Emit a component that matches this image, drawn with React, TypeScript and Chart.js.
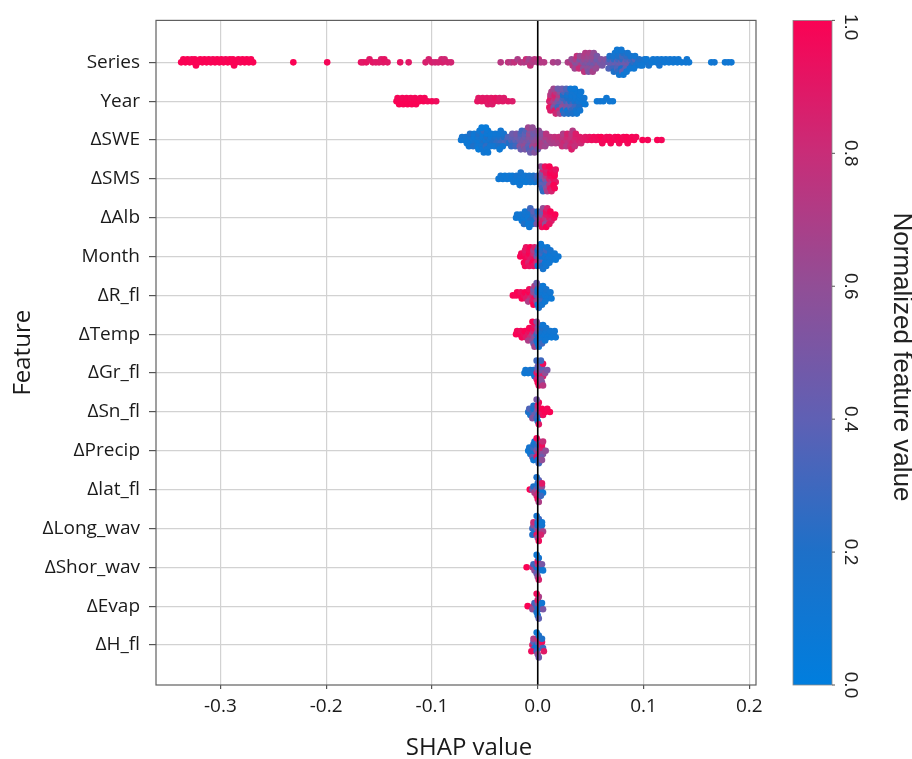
import React, { useEffect, useRef } from 'react';
import { Chart, registerables } from 'chart.js';
Chart.register(...registerables);

// ---------- data ----------
const features = ['Series', 'Year', 'ΔSWE', 'ΔSMS', 'ΔAlb', 'Month', 'ΔR_fl', 'ΔTemp', 'ΔGr_fl', 'ΔSn_fl', 'ΔPrecip', 'Δlat_fl', 'ΔLong_wav', 'ΔShor_wav', 'ΔEvap', 'ΔH_fl'];
const xTicks = [-0.3, -0.2, -0.1, 0, 0.1, 0.2];
const cbTicks = [0, 0.2, 0.4, 0.6, 0.8, 1.0];

// [SHAP value, normalized feature value]
const seriesPts = [
  [-0.337, 1], [-0.335, 1], [-0.333, 1], [-0.331, 1], [-0.329, 1], [-0.327, 0.98], [-0.325, 1], [-0.324, 1], [-0.323, 1], [-0.321, 1], [-0.319, 1], [-0.317, 1], [-0.315, 1], [-0.313, 1], [-0.311, 1], [-0.309, 1], [-0.307, 0.98], [-0.305, 1], [-0.303, 1], [-0.301, 1], [-0.299, 1], [-0.297, 1], [-0.295, 0.97], [-0.293, 1], [-0.291, 1], [-0.289, 1], [-0.288, 1], [-0.287, 1], [-0.285, 1], [-0.283, 1], [-0.281, 0.98], [-0.279, 1], [-0.277, 1], [-0.275, 1], [-0.273, 1], [-0.271, 1], [-0.269, 1],
  [-0.231, 1], [-0.199, 0.98],
  [-0.167, 0.93], [-0.165, 0.9], [-0.162, 0.92], [-0.159, 0.9], [-0.156, 0.91], [-0.153, 0.89], [-0.15, 0.9], [-0.148, 0.88], [-0.146, 0.9], [-0.145, 0.92], [-0.142, 0.9],
  [-0.13, 0.92], [-0.122, 0.9],
  [-0.106, 0.86], [-0.103, 0.85], [-0.1, 0.86], [-0.097, 0.84], [-0.094, 0.85], [-0.091, 0.84], [-0.09, 0.86], [-0.088, 0.83], [-0.085, 0.85], [-0.082, 0.84],
  [-0.035, 0.74],
  [-0.028, 0.76], [-0.025, 0.73], [-0.022, 0.78], [-0.019, 0.7], [-0.016, 0.75], [-0.013, 0.72], [-0.011, 0.8], [-0.009, 0.7], [-0.008, 0.66], [-0.007, 0.78], [-0.005, 0.72], [-0.003, 0.75], [0, 0.7], [0.001, 0.76], [0.003, 0.72], [0.006, 0.73],
  [0.0145, 0.7], [0.019, 0.66],
  [0.0285, 0.7],
  [0.031, 0.72], [0.032, 0.62], [0.033, 0.75],
  [0.035, 0.6], [0.036, 0.7], [0.0365, 0.55], [0.037, 0.78], [0.035, 0.65],
  [0.039, 0.6], [0.04, 0.5], [0.041, 0.7], [0.04, 0.62], [0.039, 0.8],
  [0.043, 0.55], [0.044, 0.62], [0.045, 0.5], [0.044, 0.68], [0.043, 0.58], [0.045, 0.72], [0.044, 0.76],
  [0.047, 0.55], [0.048, 0.6], [0.049, 0.48], [0.048, 0.65], [0.047, 0.58], [0.049, 0.7], [0.048, 0.52],
  [0.051, 0.5], [0.052, 0.58], [0.053, 0.45], [0.052, 0.62], [0.051, 0.55], [0.053, 0.6], [0.052, 0.68],
  [0.055, 0.52], [0.056, 0.45], [0.057, 0.58], [0.056, 0.5], [0.055, 0.62],
  [0.059, 0.48], [0.06, 0.55], [0.061, 0.5],
  [0.063, 0.5], [0.0645, 0.55],
  [0.067, 0.42], [0.068, 0.3], [0.069, 0.45], [0.068, 0.2], [0.067, 0.35],
  [0.071, 0.4], [0.072, 0.25], [0.073, 0.45], [0.072, 0.15], [0.071, 0.3], [0.073, 0.12], [0.072, 0.2],
  [0.075, 0.4], [0.076, 0.3], [0.077, 0.45], [0.076, 0.2], [0.075, 0.35], [0.077, 0.15], [0.076, 0.25], [0.075, 0.1], [0.077, 0.12],
  [0.079, 0.42], [0.08, 0.25], [0.081, 0.45], [0.08, 0.3], [0.079, 0.18], [0.081, 0.2], [0.08, 0.4], [0.079, 0.12], [0.081, 0.1],
  [0.083, 0.45], [0.084, 0.35], [0.085, 0.5], [0.084, 0.25], [0.083, 0.4], [0.085, 0.15], [0.084, 0.12],
  [0.087, 0.42], [0.088, 0.3], [0.089, 0.2], [0.088, 0.15], [0.087, 0.12],
  [0.091, 0.25], [0.092, 0.35], [0.093, 0.15], [0.092, 0.12], [0.091, 0.1],
  [0.095, 0.15], [0.096, 0.2], [0.097, 0.12],
  [0.1, 0.12], [0.101, 0.15], [0.099, 0.1], [0.104, 0.12], [0.103, 0.1], [0.105, 0.15], [0.108, 0.1], [0.109, 0.12], [0.112, 0.1], [0.113, 0.12], [0.116, 0.1], [0.117, 0.12], [0.115, 0.14], [0.12, 0.1], [0.121, 0.12], [0.124, 0.1], [0.125, 0.12], [0.128, 0.1], [0.129, 0.12], [0.132, 0.1], [0.133, 0.11], [0.136, 0.1], [0.14, 0.1], [0.141, 0.12], [0.143, 0.1],
  [0.164, 0.1], [0.167, 0.12], [0.177, 0.1], [0.18, 0.12], [0.183, 0.1],
];

const yearPts = [
  [-0.1335, 1], [-0.1325, 0.98], [-0.131, 1], [-0.1285, 1], [-0.128, 0.97], [-0.127, 1], [-0.1245, 1], [-0.124, 0.98], [-0.123, 1], [-0.1205, 1], [-0.12, 0.97], [-0.119, 1], [-0.1165, 1], [-0.116, 0.98], [-0.115, 1], [-0.112, 1], [-0.111, 0.97], [-0.108, 1], [-0.107, 0.98], [-0.104, 0.97], [-0.1, 0.98], [-0.096, 0.95],
  [-0.057, 0.92], [-0.056, 0.9], [-0.053, 0.92], [-0.052, 0.9], [-0.049, 0.92], [-0.048, 0.9], [-0.047, 0.88], [-0.045, 0.92], [-0.044, 0.9], [-0.043, 0.88], [-0.041, 0.9], [-0.04, 0.92], [-0.037, 0.9], [-0.036, 0.88], [-0.033, 0.9], [-0.032, 0.88], [-0.028, 0.9], [-0.024, 0.88],
  [0.011, 0.85], [0.012, 0.9], [0.013, 0.8], [0.012, 0.75], [0.011, 0.92], [0.013, 0.7], [0.012, 0.88],
  [0.015, 0.7], [0.016, 0.8], [0.017, 0.6], [0.016, 0.85], [0.015, 0.5], [0.017, 0.75], [0.016, 0.9], [0.015, 0.65], [0.017, 0.82],
  [0.019, 0.5], [0.02, 0.6], [0.021, 0.4], [0.02, 0.7], [0.019, 0.3], [0.021, 0.55], [0.02, 0.8], [0.019, 0.45], [0.021, 0.65],
  [0.023, 0.4], [0.024, 0.3], [0.025, 0.5], [0.024, 0.2], [0.023, 0.6], [0.025, 0.35], [0.024, 0.15], [0.023, 0.45], [0.025, 0.25],
  [0.027, 0.3], [0.028, 0.2], [0.029, 0.4], [0.028, 0.15], [0.027, 0.5], [0.029, 0.25], [0.028, 0.1], [0.027, 0.35], [0.029, 0.2],
  [0.031, 0.2], [0.032, 0.15], [0.033, 0.3], [0.032, 0.1], [0.031, 0.4], [0.033, 0.12], [0.032, 0.25], [0.031, 0.1], [0.033, 0.18],
  [0.035, 0.15], [0.036, 0.1], [0.037, 0.2], [0.036, 0.12], [0.035, 0.3], [0.037, 0.1], [0.036, 0.15], [0.035, 0.08], [0.037, 0.12],
  [0.039, 0.12], [0.04, 0.1], [0.041, 0.15], [0.04, 0.08], [0.039, 0.2], [0.041, 0.1], [0.04, 0.12],
  [0.043, 0.1], [0.044, 0.12], [0.045, 0.08],
  [0.056, 0.1], [0.059, 0.12], [0.062, 0.1], [0.065, 0.1], [0.068, 0.12], [0.071, 0.1],
];

const swePts = [
  [-0.0725, 0.1], [-0.0715, 0.15],
  [-0.069, 0.1], [-0.068, 0.15], [-0.067, 0.08],
  [-0.065, 0.1], [-0.064, 0.15], [-0.063, 0.08], [-0.064, 0.2], [-0.065, 0.1],
  [-0.061, 0.12], [-0.06, 0.08], [-0.059, 0.15], [-0.06, 0.1], [-0.061, 0.2],
  [-0.057, 0.1], [-0.056, 0.15], [-0.055, 0.08], [-0.056, 0.2], [-0.057, 0.12], [-0.055, 0.1], [-0.056, 0.05],
  [-0.053, 0.15], [-0.052, 0.1], [-0.051, 0.2], [-0.052, 0.08], [-0.053, 0.12], [-0.051, 0.25], [-0.052, 0.1], [-0.053, 0.05], [-0.051, 0.12],
  [-0.049, 0.1], [-0.048, 0.2], [-0.047, 0.15], [-0.048, 0.08], [-0.049, 0.25], [-0.047, 0.1], [-0.048, 0.12], [-0.049, 0.05], [-0.047, 0.1],
  [-0.045, 0.15], [-0.044, 0.1], [-0.043, 0.2], [-0.044, 0.08], [-0.045, 0.12],
  [-0.041, 0.2], [-0.04, 0.15], [-0.039, 0.25], [-0.04, 0.1], [-0.041, 0.12],
  [-0.037, 0.25], [-0.036, 0.15], [-0.035, 0.3], [-0.036, 0.1], [-0.037, 0.2], [-0.035, 0.12], [-0.036, 0.08],
  [-0.033, 0.3], [-0.032, 0.2], [-0.031, 0.35], [-0.032, 0.15], [-0.033, 0.1],
  [-0.029, 0.3], [-0.028, 0.35], [-0.027, 0.2],
  [-0.025, 0.35], [-0.024, 0.4], [-0.023, 0.3], [-0.024, 0.45], [-0.025, 0.25],
  [-0.021, 0.4], [-0.02, 0.45], [-0.019, 0.35], [-0.02, 0.5], [-0.021, 0.3],
  [-0.017, 0.45], [-0.016, 0.4], [-0.015, 0.5], [-0.016, 0.35], [-0.017, 0.55], [-0.015, 0.3], [-0.016, 0.45],
  [-0.013, 0.5], [-0.012, 0.45], [-0.011, 0.55], [-0.012, 0.4], [-0.013, 0.6], [-0.011, 0.35], [-0.012, 0.5],
  [-0.009, 0.5], [-0.008, 0.55], [-0.007, 0.45], [-0.008, 0.6], [-0.009, 0.4], [-0.007, 0.55], [-0.008, 0.35], [-0.009, 0.65], [-0.007, 0.45],
  [-0.005, 0.55], [-0.004, 0.5], [-0.003, 0.6], [-0.004, 0.45], [-0.005, 0.65], [-0.003, 0.5], [-0.004, 0.4], [-0.005, 0.6], [-0.003, 0.55],
  [-0.001, 0.6], [0, 0.55], [0.001, 0.65], [0, 0.5], [-0.001, 0.7], [0.001, 0.6], [0, 0.45],
  [0.003, 0.65], [0.004, 0.6], [0.005, 0.7], [0.004, 0.55], [0.003, 0.7],
  [0.007, 0.65], [0.008, 0.7], [0.009, 0.6], [0.008, 0.75], [0.007, 0.65],
  [0.011, 0.7], [0.012, 0.75], [0.013, 0.68],
  [0.015, 0.72], [0.016, 0.78], [0.017, 0.7],
  [0.019, 0.75], [0.02, 0.8], [0.021, 0.72],
  [0.023, 0.78], [0.024, 0.75], [0.025, 0.82], [0.024, 0.7], [0.023, 0.8],
  [0.027, 0.78], [0.028, 0.82], [0.029, 0.75], [0.028, 0.85], [0.027, 0.72],
  [0.031, 0.8], [0.032, 0.78], [0.033, 0.85], [0.032, 0.75], [0.031, 0.82], [0.033, 0.72], [0.032, 0.88],
  [0.035, 0.82], [0.036, 0.85], [0.037, 0.8], [0.036, 0.88], [0.035, 0.78],
  [0.039, 0.85], [0.04, 0.88], [0.041, 0.82],
  [0.043, 0.88], [0.045, 0.9],
  [0.047, 0.9], [0.049, 0.92],
  [0.051, 0.95], [0.053, 0.97], [0.055, 0.95], [0.057, 0.98], [0.059, 0.96], [0.06, 1], [0.061, 0.97], [0.063, 0.98], [0.065, 0.96], [0.067, 1], [0.068, 0.97], [0.069, 0.98], [0.071, 1], [0.073, 0.97], [0.075, 0.98], [0.076, 1], [0.077, 0.96], [0.079, 1], [0.081, 0.97], [0.083, 0.98], [0.084, 1], [0.085, 0.97], [0.087, 1], [0.089, 0.98], [0.091, 1], [0.093, 0.97], [0.099, 1], [0.104, 0.98], [0.113, 1], [0.117, 0.98],
];

const smsPts = [
  [-0.037, 0.1], [-0.035, 0.12], [-0.033, 0.1], [-0.031, 0.08], [-0.029, 0.1], [-0.027, 0.12], [-0.025, 0.1], [-0.024, 0.08], [-0.023, 0.12], [-0.021, 0.1], [-0.02, 0.15], [-0.019, 0.08], [-0.017, 0.1], [-0.016, 0.12], [-0.015, 0.08], [-0.016, 0.15], [-0.017, 0.1], [-0.013, 0.1], [-0.012, 0.12], [-0.011, 0.08], [-0.009, 0.1], [-0.008, 0.15], [-0.007, 0.12], [-0.005, 0.15], [-0.004, 0.2], [-0.003, 0.12], [-0.001, 0.25], [0, 0.3], [0.001, 0.2],
  [0.003, 0.35], [0.004, 0.45], [0.005, 0.3], [0.004, 0.55], [0.003, 0.4], [0.005, 0.85], [0.004, 0.3], [0.003, 0.6], [0.005, 0.25],
  [0.007, 0.6], [0.008, 0.75], [0.009, 0.5], [0.008, 0.9], [0.007, 0.4], [0.009, 0.85], [0.008, 0.55], [0.007, 0.95], [0.009, 0.7],
  [0.011, 0.85], [0.012, 0.95], [0.013, 0.8], [0.012, 1], [0.011, 0.75], [0.013, 0.95], [0.012, 0.9], [0.011, 1], [0.013, 0.85],
  [0.015, 0.95], [0.016, 1], [0.017, 0.9], [0.016, 0.97], [0.015, 1], [0.017, 0.92], [0.016, 0.98],
];

const albPts = [
  [-0.0205, 0.1], [-0.0195, 0.12],
  [-0.017, 0.1], [-0.016, 0.12], [-0.015, 0.08],
  [-0.013, 0.1], [-0.012, 0.15], [-0.011, 0.08], [-0.012, 0.12], [-0.013, 0.2],
  [-0.009, 0.12], [-0.008, 0.1], [-0.007, 0.2], [-0.008, 0.15], [-0.009, 0.08], [-0.007, 0.3], [-0.008, 0.1],
  [-0.005, 0.2], [-0.004, 0.3], [-0.003, 0.15], [-0.004, 0.4], [-0.005, 0.12],
  [-0.001, 0.45], [0, 0.3], [0.001, 0.6], [0, 0.2], [-0.001, 0.5],
  [0.003, 0.75], [0.004, 0.55], [0.005, 0.85], [0.004, 0.45], [0.003, 0.9], [0.005, 0.6], [0.004, 0.95],
  [0.007, 0.8], [0.008, 0.9], [0.009, 0.7], [0.008, 0.95], [0.007, 0.6], [0.009, 0.85], [0.008, 1],
  [0.011, 0.9], [0.012, 0.95], [0.013, 0.85], [0.012, 1], [0.011, 0.92],
  [0.0155, 0.95], [0.0165, 1],
];

const monthPts = [
  [-0.0165, 1], [-0.0155, 0.97],
  [-0.013, 1], [-0.012, 0.95], [-0.011, 0.98], [-0.012, 0.9], [-0.013, 1], [-0.011, 0.93], [-0.012, 0.97],
  [-0.009, 0.95], [-0.008, 1], [-0.007, 0.9], [-0.008, 0.97], [-0.009, 0.85], [-0.007, 1], [-0.008, 0.92],
  [-0.005, 0.9], [-0.004, 0.8], [-0.003, 0.95], [-0.004, 0.7], [-0.005, 1], [-0.003, 0.85], [-0.004, 0.93],
  [-0.001, 0.5], [0, 0.3], [0.001, 0.65], [0, 0.2], [-0.001, 0.8], [0.001, 0.4], [0, 0.15],
  [0.003, 0.15], [0.004, 0.3], [0.005, 0.1], [0.004, 0.25], [0.003, 0.4], [0.005, 0.12], [0.004, 0.2], [0.003, 0.08], [0.005, 0.15],
  [0.007, 0.12], [0.008, 0.1], [0.009, 0.15], [0.008, 0.3], [0.007, 0.08], [0.009, 0.1], [0.008, 0.12],
  [0.011, 0.1], [0.012, 0.08], [0.013, 0.12], [0.012, 0.15], [0.011, 0.1],
  [0.015, 0.1], [0.016, 0.12], [0.017, 0.08],
  [0.0195, 0.1],
];

const rflPts = [
  [-0.0235, 1],
  [-0.0205, 0.98], [-0.0195, 1],
  [-0.017, 1], [-0.016, 0.95], [-0.015, 1],
  [-0.013, 0.95], [-0.012, 1], [-0.011, 0.9],
  [-0.009, 0.9], [-0.008, 1], [-0.007, 0.8], [-0.008, 0.95], [-0.009, 0.7],
  [-0.005, 0.85], [-0.004, 0.6], [-0.003, 0.95], [-0.004, 0.5], [-0.005, 0.9], [-0.003, 0.7], [-0.004, 1],
  [-0.001, 0.4], [0, 0.2], [0.001, 0.5], [0, 0.15], [-0.001, 0.6], [0.001, 0.3], [0, 0.1], [-0.001, 0.45], [0.001, 0.2],
  [0.003, 0.15], [0.004, 0.1], [0.005, 0.2], [0.004, 0.12], [0.003, 0.3], [0.005, 0.08], [0.004, 0.15],
  [0.007, 0.1], [0.008, 0.12], [0.009, 0.08], [0.008, 0.15], [0.007, 0.1],
  [0.011, 0.1], [0.012, 0.12], [0.013, 0.08],
];

const tempPts = [
  [-0.0205, 1], [-0.0195, 0.97],
  [-0.017, 1], [-0.016, 0.95], [-0.015, 0.98],
  [-0.013, 0.95], [-0.012, 1], [-0.011, 0.9],
  [-0.009, 0.9], [-0.008, 0.95], [-0.007, 0.8], [-0.008, 1], [-0.009, 0.7],
  [-0.005, 0.7], [-0.004, 0.85], [-0.003, 0.55], [-0.004, 0.95], [-0.005, 0.6], [-0.003, 0.9], [-0.004, 0.45], [-0.005, 1], [-0.003, 0.65],
  [-0.001, 0.3], [0, 0.5], [0.001, 0.15], [0, 0.6], [-0.001, 0.2], [0.001, 0.4], [0, 0.1], [-0.001, 0.55], [0.001, 0.12],
  [0.003, 0.1], [0.004, 0.15], [0.005, 0.08], [0.004, 0.2], [0.003, 0.12], [0.005, 0.1], [0.004, 0.3],
  [0.007, 0.1], [0.008, 0.12], [0.009, 0.08], [0.008, 0.15], [0.007, 0.1],
  [0.011, 0.1], [0.012, 0.12], [0.013, 0.08],
  [0.015, 0.1], [0.016, 0.12], [0.017, 0.1],
];

const grPts = [
  [-0.0125, 0.1], [-0.0115, 0.12],
  [-0.009, 0.1], [-0.007, 0.15],
  [-0.005, 0.12], [-0.004, 0.2], [-0.003, 0.1],
  [-0.001, 0.9], [0, 0.6], [0.001, 0.95], [0, 0.4], [-0.001, 0.85], [0.001, 0.5], [0, 1], [-0.001, 0.3], [0.001, 0.9],
  [0.003, 0.7], [0.004, 0.5], [0.005, 0.85], [0.004, 0.4], [0.003, 0.6], [0.005, 0.95], [0.004, 0.55], [0.003, 0.3], [0.005, 0.75],
  [0.007, 0.6], [0.009, 0.5],
];

const snPts = [
  [-0.009, 0.2], [-0.008, 0.35], [-0.007, 0.15],
  [-0.005, 0.3], [-0.004, 0.15], [-0.003, 0.45], [-0.004, 0.2], [-0.005, 0.55],
  [-0.001, 0.4], [0, 0.6], [0.001, 0.2], [0, 0.8], [-0.001, 0.3], [0.001, 0.95], [0, 0.15], [-0.001, 0.5], [0.001, 0.9],
  [0.003, 0.9], [0.004, 1], [0.005, 0.95],
  [0.007, 1], [0.009, 0.97],
  [0.0115, 1],
];

const precipPts = [
  [-0.009, 0.1], [-0.008, 0.15], [-0.007, 0.12],
  [-0.005, 0.15], [-0.004, 0.3], [-0.003, 0.1], [-0.004, 0.2], [-0.005, 0.4], [-0.003, 0.12], [-0.004, 0.1],
  [-0.001, 0.6], [0, 0.4], [0.001, 0.8], [0, 0.25], [-0.001, 0.9], [0.001, 0.5], [0, 0.15], [-0.001, 0.95], [0.001, 0.3],
  [0.003, 0.7], [0.004, 0.85], [0.005, 0.55], [0.004, 0.95], [0.003, 0.45], [0.005, 0.8], [0.004, 0.6],
  [0.0075, 0.6],
];

const latPts = [
  [-0.0075, 1],
  [-0.005, 0.5], [-0.004, 0.2], [-0.003, 0.7],
  [-0.001, 0.6], [0, 0.3], [0.001, 0.9], [0, 0.15], [-0.001, 0.8], [0.001, 0.4], [0, 0.95], [-0.001, 0.2], [0.001, 0.7],
  [0.003, 0.2], [0.004, 0.6], [0.005, 0.1], [0.004, 0.9], [0.003, 0.3],
];

const longPts = [
  [-0.005, 0.3], [-0.004, 0.6], [-0.003, 0.15], [-0.004, 0.8], [-0.005, 0.2],
  [-0.001, 0.5], [0, 0.2], [0.001, 0.8], [0, 0.1], [-0.001, 0.9], [0.001, 0.3], [0, 0.6], [-0.001, 0.15], [0.001, 0.95],
  [0.003, 0.4], [0.004, 0.15], [0.005, 0.7], [0.004, 0.1], [0.003, 0.85],
];

const shorPts = [
  [-0.0105, 1],
  [-0.005, 0.8], [-0.004, 0.3], [-0.003, 0.6],
  [-0.001, 0.2], [0, 0.7], [0.001, 0.1], [0, 0.9], [-0.001, 0.4], [0.001, 0.15], [0, 0.6], [-0.001, 0.1], [0.001, 0.85],
  [0.003, 0.2], [0.004, 0.5], [0.005, 0.1],
];

const evapPts = [
  [-0.0095, 1],
  [-0.004, 0.8], [-0.003, 0.3], [-0.005, 0.6],
  [-0.001, 0.3], [0, 0.6], [0.001, 0.1], [0, 0.9], [-0.001, 0.2], [0.001, 0.7], [0, 0.15], [-0.001, 0.95], [0.001, 0.4],
  [0.003, 0.2], [0.004, 0.1], [0.005, 0.5],
];

const hflPts = [
  [-0.005, 0.9], [-0.004, 0.4], [-0.003, 0.2], [-0.004, 0.7], [-0.006, 0.95],
  [-0.001, 0.15], [0, 0.5], [0.001, 0.1], [0, 0.8], [-0.001, 0.3], [0.001, 0.2], [0, 0.6], [-0.001, 0.1], [0.001, 0.45],
  [0.003, 0.7], [0.004, 0.95], [0.005, 0.3], [0.004, 0.2], [0.0058, 0.9],
];

const rows = [seriesPts, yearPts, swePts, smsPts, albPts, monthPts, rflPts, tempPts, grPts, snPts, precipPts, latPts, longPts, shorPts, evapPts, hflPts];

// ---------- style / layout ----------
const X_MIN = -0.3608;
const X_MAX = 0.2063;
const Y_MIN = -1.03;
const Y_MAX = 16.08;
const BIN = 0.004; // swarm bin width (SHAP units)
const LAYER = 0.08; // vertical step per stacked point (row units)
const DOT = 3.3;
const colorStops = [
  [0, 0, 126, 222],
  [0.2, 30, 112, 200],
  [0.4, 95, 96, 180],
  [0.6, 145, 78, 150],
  [0.8, 200, 45, 120],
  [1, 250, 2, 84],
];
const LABEL_FONT = '"Open Sans", "DejaVu Sans", sans-serif';
const CB_FONT = '"Liberation Sans", Arial, sans-serif';

function cmap(t: number): string {
  const v = Math.max(0, Math.min(1, t));
  for (let i = 1; i < colorStops.length; i++) {
    const a = colorStops[i - 1];
    const b = colorStops[i];
    if (v <= b[0]) {
      const f = (v - a[0]) / (b[0] - a[0]);
      const r = Math.round(a[1] + (b[1] - a[1]) * f);
      const g = Math.round(a[2] + (b[2] - a[2]) * f);
      const bl = Math.round(a[3] + (b[3] - a[3]) * f);
      return `rgb(${r},${g},${bl})`;
    }
  }
  return 'rgb(250,2,84)';
}

// SHAP-style beeswarm stacking: points sharing a bin alternate above / below the row line
function swarm(points: number[][], row: number) {
  const counts = new Map<number, number>();
  return points.map(([x, c]) => {
    const b = Math.round(x / BIN);
    const layer = counts.get(b) ?? 0;
    counts.set(b, layer + 1);
    const off = Math.ceil(layer / 2) * (layer % 2 === 1 ? 1 : -1) * LAYER;
    return { x, y: row + off, c };
  });
}

const decoPlugin = {
  id: 'deco',
  afterDatasetsDraw(chart: any) {
    const { ctx, chartArea: a, scales } = chart;
    const x0 = scales.x.getPixelForValue(0);
    ctx.save();
    ctx.strokeStyle = '#000';
    ctx.lineWidth = 1.6;
    ctx.beginPath();
    ctx.moveTo(x0, a.top);
    ctx.lineTo(x0, a.bottom);
    ctx.stroke();
    ctx.restore();
  },
  afterDraw(chart: any) {
    const { ctx, chartArea: a } = chart;
    ctx.save();
    // frame
    ctx.strokeStyle = '#606060';
    ctx.lineWidth = 1.2;
    ctx.strokeRect(a.left, a.top, a.right - a.left, a.bottom - a.top);

    // axis titles
    ctx.fillStyle = '#1a1a1a';
    ctx.font = `24px ${LABEL_FONT}`;
    ctx.textAlign = 'center';
    ctx.textBaseline = 'alphabetic';
    ctx.fillText('SHAP value', 469, 755);

    ctx.save();
    ctx.translate(23, (a.top + a.bottom) / 2);
    ctx.rotate(-Math.PI / 2);
    ctx.textBaseline = 'middle';
    ctx.fillText('Feature', 0, 0);
    ctx.restore();

    // colorbar
    const cbX = 793;
    const cbW = 39;
    const top = a.top;
    const bot = a.bottom;
    const g = ctx.createLinearGradient(0, bot, 0, top);
    colorStops.forEach((s) => g.addColorStop(s[0], `rgb(${s[1]},${s[2]},${s[3]})`));
    ctx.fillStyle = g;
    ctx.fillRect(cbX, top, cbW, bot - top);
    ctx.strokeStyle = '#8a8a8a';
    ctx.lineWidth = 0.8;
    ctx.strokeRect(cbX, top, cbW, bot - top);

    ctx.font = `19px ${CB_FONT}`;
    ctx.fillStyle = '#222';
    ctx.textAlign = 'center';
    ctx.textBaseline = 'middle';
    cbTicks.forEach((t) => {
      const y = bot - t * (bot - top);
      ctx.strokeStyle = '#555';
      ctx.lineWidth = 1;
      ctx.beginPath();
      ctx.moveTo(cbX + cbW, y);
      ctx.lineTo(cbX + cbW + 3, y);
      ctx.stroke();
      const label = t.toFixed(1);
      const w = ctx.measureText(label).width;
      const yc = Math.max(y, 14 + w / 2);
      ctx.save();
      ctx.translate(850, yc);
      ctx.rotate(Math.PI / 2);
      ctx.fillText(label, 0, 0);
      ctx.restore();
    });

    ctx.font = `26px ${CB_FONT}`;
    ctx.save();
    ctx.translate(901, 357);
    ctx.rotate(Math.PI / 2);
    ctx.fillText('Normalized feature value', 0, 0);
    ctx.restore();

    ctx.restore();
  },
};

export default function App() {
  const ref = useRef<HTMLCanvasElement>(null);

  useEffect(() => {
    document.body.style.margin = '0';
    const canvas = ref.current;
    if (!canvas) return;
    const n = features.length;
    const datasets = rows.map((pts, i) => {
      const sw = swarm(pts, n - 1 - i);
      return {
        label: features[i],
        data: sw.map((p) => ({ x: p.x, y: p.y })),
        pointBackgroundColor: sw.map((p) => cmap(p.c)),
        pointBorderWidth: 0,
        pointBorderColor: 'rgba(0,0,0,0)',
        pointRadius: DOT,
        pointHoverRadius: DOT,
        showLine: false,
      };
    });

    const chart = new Chart(canvas, {
      type: 'scatter',
      data: { datasets },
      options: {
        animation: false,
        responsive: false,
        devicePixelRatio: 1,
        events: [],
        layout: { padding: { left: 0, right: 156, top: 19, bottom: 0 } },
        plugins: { legend: { display: false }, tooltip: { enabled: false } },
        scales: {
          x: {
            type: 'linear',
            min: X_MIN,
            max: X_MAX,
            afterBuildTicks: (s: any) => {
              s.ticks = xTicks.map((v) => ({ value: v }));
            },
            afterFit: (s: any) => {
              s.height = 74;
            },
            ticks: {
              callback: (v: any) => (Math.abs(Number(v)) < 1e-9 ? '0.0' : Number(v).toFixed(1)),
              font: { family: LABEL_FONT, size: 19 },
              color: '#1a1a1a',
              padding: 6,
              maxRotation: 0,
              autoSkip: false,
            },
            grid: { color: '#d2d2d2', lineWidth: 1.2, tickLength: 4, tickColor: '#555' },
            border: { display: false },
          },
          y: {
            type: 'linear',
            min: Y_MIN,
            max: Y_MAX,
            afterBuildTicks: (s: any) => {
              s.ticks = features.map((_, i) => ({ value: i }));
            },
            afterFit: (s: any) => {
              s.width = 156;
            },
            ticks: {
              callback: (v: any) => features[n - 1 - Math.round(Number(v))] ?? '',
              font: { family: LABEL_FONT, size: 19 },
              color: '#1a1a1a',
              padding: 9,
              autoSkip: false,
            },
            grid: { color: '#d2d2d2', lineWidth: 1.2, tickLength: 7, tickColor: '#555' },
            border: { display: false },
          },
        },
      } as any,
      plugins: [decoPlugin],
    });
    return () => chart.destroy();
  }, []);

  return (
    <div style={{ width: 912, height: 759 }}>
      <canvas ref={ref} width={912} height={759} style={{ display: 'block' }} />
    </div>
  );
}
